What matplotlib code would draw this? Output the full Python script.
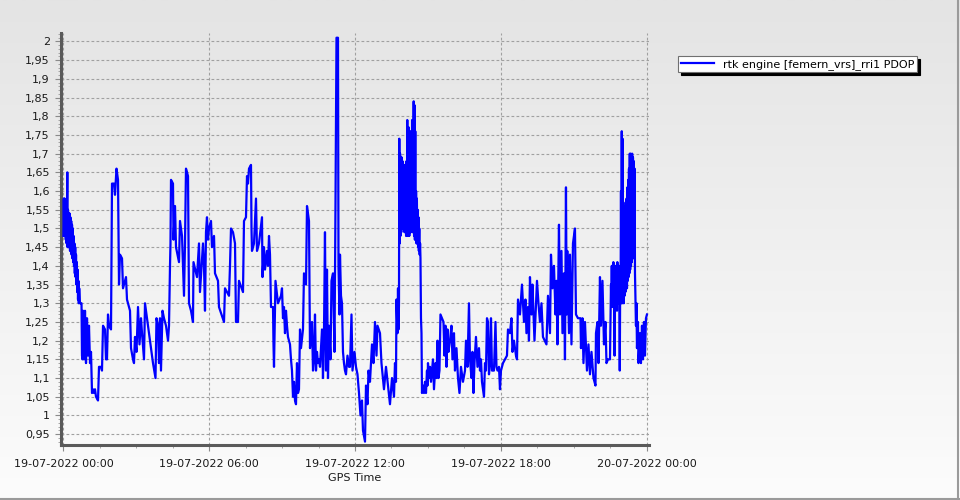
import numpy as np
import matplotlib
matplotlib.use("Agg")
import matplotlib.pyplot as plt
from matplotlib.ticker import FixedLocator, MultipleLocator, FuncFormatter
from matplotlib.colors import LinearSegmentedColormap
from matplotlib.lines import Line2D

# ---------------- data ----------------
series_label = "rtk engine [femern_vrs]_rri1 PDOP"
x_label = "GPS Time"
xtick_hours = [0, 6, 12, 18, 24]
xtick_labels = ["19-07-2022 00:00", "19-07-2022 06:00", "19-07-2022 12:00",
                "19-07-2022 18:00", "20-07-2022 00:00"]
ytick_values = [0.95, 1.00, 1.05, 1.10, 1.15, 1.20, 1.25, 1.30, 1.35, 1.40, 1.45,
                1.50, 1.55, 1.60, 1.65, 1.70, 1.75, 1.80, 1.85, 1.90, 1.95, 2.00]

# hours since 19-07-2022 00:00 and PDOP values, by segment
hours_a = [0.000, 0.016, 0.033, 0.049, 0.066, 0.082, 0.099, 0.115, 0.132, 0.148, 0.160,
           0.173, 0.189, 0.206, 0.222, 0.239, 0.255, 0.272, 0.288, 0.305, 0.321, 0.337,
           0.354, 0.370, 0.387, 0.403, 0.420, 0.436, 0.453, 0.469, 0.486, 0.502, 0.519,
           0.535, 0.551, 0.568, 0.584, 0.601, 0.617, 0.634, 0.650, 0.683, 0.745]
pdop_a = [1.48, 1.58, 1.49, 1.58, 1.48, 1.57, 1.47, 1.56, 1.46, 1.55, 1.65, 1.45, 1.55,
          1.45, 1.54, 1.45, 1.54, 1.44, 1.53, 1.44, 1.52, 1.43, 1.51, 1.42, 1.50, 1.41,
          1.48, 1.40, 1.46, 1.38, 1.45, 1.37, 1.43, 1.35, 1.41, 1.33, 1.39, 1.31, 1.36,
          1.30, 1.34, 1.30, 1.30]

hours_b = [0.765, 0.786, 0.807, 0.848, 0.889, 0.930, 0.971, 1.012, 1.053, 1.095, 1.136,
           1.156, 1.177, 1.218, 1.259, 1.300, 1.342, 1.424, 1.465, 1.547, 1.588, 1.630,
           1.712, 1.753, 1.794, 1.835, 1.877, 1.959, 2.000, 2.082, 2.123, 2.185, 2.247,
           2.288, 2.329, 2.412, 2.453, 2.535, 2.576, 2.617, 2.741, 2.782, 2.864, 2.905,
           2.946, 3.008, 3.070, 3.132, 3.193, 3.235, 3.317, 3.358]
pdop_b = [1.16, 1.15, 1.28, 1.15, 1.28, 1.14, 1.26, 1.16, 1.24, 1.14, 1.17, 1.12, 1.06,
          1.07, 1.06, 1.07, 1.05, 1.04, 1.13, 1.13, 1.12, 1.24, 1.23, 1.15, 1.15, 1.27,
          1.24, 1.23, 1.62, 1.62, 1.59, 1.66, 1.63, 1.35, 1.43, 1.42, 1.34, 1.36, 1.37,
          1.31, 1.28, 1.18, 1.15, 1.14, 1.21, 1.17, 1.29, 1.19, 1.26, 1.22, 1.15, 1.30]

hours_c = [3.523, 3.687, 3.790, 3.831, 3.893, 3.934, 3.975, 4.016, 4.078, 4.140, 4.222,
           4.305, 4.346, 4.387, 4.407, 4.428, 4.510, 4.531, 4.593, 4.634, 4.757, 4.798,
           4.881, 4.963, 5.004, 5.045, 5.128, 5.169, 5.251, 5.333, 5.354, 5.498, 5.580,
           5.621, 5.745, 5.786, 5.827, 5.868, 5.909, 5.951, 5.992, 6.074, 6.115, 6.198,
           6.239, 6.362, 6.403, 6.609, 6.650, 6.733, 6.815]
pdop_c = [1.22, 1.14, 1.10, 1.26, 1.24, 1.14, 1.26, 1.12, 1.28, 1.26, 1.24, 1.20, 1.24,
          1.40, 1.46, 1.63, 1.62, 1.47, 1.56, 1.45, 1.41, 1.52, 1.48, 1.32, 1.46, 1.66,
          1.64, 1.30, 1.28, 1.25, 1.41, 1.37, 1.46, 1.33, 1.46, 1.40, 1.28, 1.49, 1.53,
          1.47, 1.50, 1.52, 1.45, 1.48, 1.38, 1.36, 1.29, 1.25, 1.34, 1.33, 1.32]

hours_d = [6.856, 6.897, 6.979, 7.062, 7.103, 7.185, 7.226, 7.391, 7.432, 7.514, 7.556,
           7.597, 7.638, 7.720, 7.741, 7.761, 7.844, 7.926, 7.967, 8.049, 8.173, 8.193,
           8.255, 8.296, 8.379, 8.420, 8.461, 8.502, 8.543, 8.626, 8.646, 8.667, 8.728,
           8.831, 8.955, 8.996, 9.037, 9.078, 9.119, 9.160, 9.202, 9.243, 9.325, 9.366,
           9.407, 9.449, 9.490, 9.531, 9.572, 9.613, 9.654, 9.695, 9.737, 9.778, 9.860,
           9.901, 9.984, 10.025, 10.107, 10.148, 10.230, 10.272, 10.313, 10.354, 10.395,
           10.436, 10.477]
pdop_d = [1.40, 1.50, 1.49, 1.46, 1.25, 1.25, 1.36, 1.33, 1.52, 1.53, 1.64, 1.62, 1.66,
          1.67, 1.50, 1.44, 1.46, 1.58, 1.44, 1.46, 1.53, 1.37, 1.45, 1.39, 1.44, 1.40,
          1.48, 1.43, 1.29, 1.29, 1.19, 1.13, 1.36, 1.30, 1.32, 1.34, 1.26, 1.29, 1.22,
          1.28, 1.24, 1.21, 1.19, 1.15, 1.12, 1.05, 1.09, 1.04, 1.03, 1.14, 1.06, 1.07,
          1.23, 1.18, 1.23, 1.38, 1.35, 1.56, 1.52, 1.18, 1.25, 1.12, 1.15, 1.27, 1.12,
          1.17, 1.14]

hours_e = [10.519, 10.560, 10.642, 10.683, 10.724, 10.765, 10.807, 10.848, 10.889, 10.930,
           10.992, 11.033, 11.095, 11.156, 11.198, 11.239, 11.300, 11.321, 11.362, 11.383,
           11.424, 11.465, 11.506, 11.547, 11.588, 11.630, 11.691, 11.753, 11.794, 11.856,
           11.897, 11.979, 12.041, 12.103, 12.165, 12.226, 12.288, 12.329, 12.412, 12.453,
           12.514, 12.556, 12.617, 12.700, 12.761, 12.823, 12.885, 12.926, 13.029, 13.090,
           13.193, 13.276, 13.358, 13.440, 13.523, 13.605, 13.646, 13.687, 13.708, 13.749,
           13.770, 13.790, 13.811]
pdop_e = [1.15, 1.13, 1.23, 1.10, 1.22, 1.49, 1.12, 1.39, 1.10, 1.24, 1.15, 1.36, 1.38,
          1.17, 1.57, 2.01, 2.01, 1.40, 1.27, 1.43, 1.32, 1.30, 1.17, 1.14, 1.12, 1.11,
          1.16, 1.13, 1.13, 1.27, 1.12, 1.17, 1.13, 1.11, 1.06, 1.00, 1.04, 0.96, 0.93,
          1.08, 1.03, 1.12, 1.09, 1.19, 1.14, 1.25, 1.16, 1.24, 1.22, 1.14, 1.07, 1.13,
          1.08, 1.03, 1.10, 1.05, 1.14, 1.09, 1.31, 1.22, 1.34, 1.23, 1.30]

hours_f = [13.823, 13.840, 13.856, 13.873, 13.889, 13.905, 13.922, 13.938, 13.955, 13.971,
           13.988, 14.004, 14.021, 14.037, 14.054, 14.070, 14.086, 14.103, 14.119, 14.136,
           14.152, 14.169, 14.185, 14.202, 14.218, 14.235, 14.251, 14.267, 14.284, 14.300,
           14.317, 14.333, 14.350, 14.366, 14.383, 14.399, 14.416, 14.432, 14.448, 14.465,
           14.481, 14.498, 14.514, 14.531, 14.547, 14.564, 14.580, 14.597, 14.613, 14.629,
           14.646, 14.662, 14.679, 14.695]
pdop_f = [1.74, 1.46, 1.70, 1.48, 1.68, 1.49, 1.69, 1.50, 1.68, 1.50, 1.67, 1.50, 1.66,
          1.49, 1.67, 1.49, 1.66, 1.48, 1.68, 1.48, 1.79, 1.48, 1.72, 1.48, 1.77, 1.48,
          1.68, 1.49, 1.76, 1.49, 1.72, 1.50, 1.79, 1.49, 1.74, 1.49, 1.84, 1.48, 1.83,
          1.47, 1.76, 1.47, 1.60, 1.46, 1.58, 1.46, 1.55, 1.45, 1.53, 1.44, 1.50, 1.43,
          1.46, 1.42]

hours_g = [14.716, 14.737, 14.757, 14.799, 14.840, 14.881, 14.922, 14.963, 14.984, 15.004,
           15.045, 15.086, 15.128, 15.210, 15.251, 15.313, 15.354, 15.395, 15.436, 15.477,
           15.518, 15.580, 15.642, 15.683, 15.724, 15.765, 15.807, 15.848, 15.909, 15.971,
           16.012, 16.074, 16.115, 16.177, 16.239, 16.300, 16.362, 16.444, 16.527, 16.568,
           16.630, 16.691, 16.733, 16.794, 16.835, 16.876, 16.918, 16.979, 17.041, 17.103,
           17.144, 17.185, 17.226]
pdop_g = [1.26, 1.22, 1.06, 1.08, 1.06, 1.09, 1.06, 1.12, 1.08, 1.14, 1.10, 1.13, 1.09,
          1.15, 1.07, 1.14, 1.10, 1.20, 1.10, 1.12, 1.27, 1.26, 1.25, 1.16, 1.24, 1.13,
          1.23, 1.17, 1.20, 1.24, 1.15, 1.22, 1.12, 1.18, 1.10, 1.06, 1.13, 1.09, 1.12,
          1.20, 1.13, 1.30, 1.15, 1.10, 1.17, 1.06, 1.14, 1.21, 1.13, 1.18, 1.12, 1.15,
          1.09]

hours_h = [17.309, 17.350, 17.391, 17.432, 17.473, 17.514, 17.556, 17.597, 17.638, 17.720,
           17.782, 17.823, 17.864, 17.926, 17.967, 18.008, 18.091, 18.173, 18.255, 18.296,
           18.379, 18.440, 18.481, 18.543, 18.626, 18.667, 18.708, 18.790, 18.872, 18.914,
           18.955, 19.016, 19.057, 19.119, 19.160, 19.201, 19.263, 19.304, 19.387, 19.490,
           19.551, 19.613, 19.675, 19.736, 19.880, 19.942, 20.025, 20.066, 20.127, 20.189,
           20.251, 20.292, 20.333, 20.395, 20.436, 20.498, 20.539, 20.601, 20.642, 20.683]
pdop_h = [1.05, 1.14, 1.12, 1.26, 1.25, 1.11, 1.14, 1.26, 1.12, 1.12, 1.25, 1.13, 1.12,
          1.13, 1.07, 1.12, 1.14, 1.15, 1.16, 1.23, 1.22, 1.26, 1.17, 1.20, 1.16, 1.15,
          1.31, 1.27, 1.35, 1.30, 1.25, 1.31, 1.22, 1.29, 1.20, 1.37, 1.27, 1.35, 1.20,
          1.36, 1.30, 1.25, 1.30, 1.21, 1.19, 1.32, 1.22, 1.43, 1.34, 1.40, 1.27, 1.36,
          1.19, 1.51, 1.27, 1.44, 1.22, 1.38, 1.15, 1.61]

hours_i = [20.712, 20.737, 20.807, 20.848, 20.909, 20.971, 21.053, 21.095, 21.177, 21.280,
           21.300, 21.362, 21.403, 21.465, 21.547, 21.609, 21.671, 21.733, 21.815, 21.897,
           21.918, 21.980, 22.021, 22.082, 22.123, 22.185, 22.247, 22.309, 22.350, 22.412,
           22.494]
pdop_i = [1.27, 1.44, 1.22, 1.43, 1.19, 1.46, 1.50, 1.27, 1.26, 1.26, 1.18, 1.26, 1.14,
          1.25, 1.12, 1.19, 1.11, 1.17, 1.10, 1.08, 1.22, 1.25, 1.14, 1.37, 1.24, 1.36,
          1.19, 1.25, 1.14, 1.15, 1.15]

hours_j = [22.535, 22.551, 22.568, 22.584, 22.601, 22.617, 22.634, 22.650, 22.667, 22.683,
           22.700, 22.716, 22.733, 22.749, 22.765, 22.782, 22.798, 22.815, 22.831, 22.848,
           22.864, 22.881, 22.897, 22.914, 22.930, 22.947, 22.963, 22.979, 22.996, 23.012,
           23.029, 23.045, 23.062, 23.078, 23.095, 23.111, 23.128, 23.144, 23.160, 23.177,
           23.193, 23.210, 23.226, 23.243, 23.259, 23.276, 23.292, 23.309, 23.325, 23.342,
           23.358, 23.374, 23.391, 23.407, 23.424, 23.440, 23.457, 23.473, 23.490, 23.506,
           23.523]
pdop_j = [1.35, 1.30, 1.40, 1.29, 1.38, 1.30, 1.41, 1.29, 1.37, 1.16,
          1.36, 1.29, 1.40, 1.30, 1.38, 1.28, 1.41, 1.30, 1.38, 1.31,
          1.40, 1.30, 1.12, 1.35, 1.31, 1.60, 1.30, 1.76, 1.30, 1.74,
          1.31, 1.57, 1.30, 1.52, 1.32, 1.56, 1.33, 1.50, 1.34, 1.58,
          1.34, 1.61, 1.36, 1.63, 1.37, 1.66, 1.38, 1.70, 1.39, 1.70,
          1.40, 1.69, 1.41, 1.70, 1.42, 1.69, 1.43, 1.68, 1.42, 1.66,
          1.38]

hours_k = [23.539, 23.564, 23.584, 23.605, 23.646, 23.667, 23.728, 23.769, 23.811, 23.852,
           23.893, 23.934, 23.975, 24.016]
pdop_k = [1.32, 1.24, 1.30, 1.18, 1.25, 1.14, 1.22, 1.14, 1.24, 1.15, 1.25, 1.16, 1.26,
          1.27]

hour_segments = [hours_a, hours_b, hours_c, hours_d, hours_e, hours_f, hours_g,
                 hours_h, hours_i, hours_j, hours_k]
pdop_segments = [pdop_a, pdop_b, pdop_c, pdop_d, pdop_e, pdop_f, pdop_g,
                 pdop_h, pdop_i, pdop_j, pdop_k]
for i, (hs, ps) in enumerate(zip(hour_segments, pdop_segments)):
    if len(hs) != len(ps):
        raise ValueError(f"segment {i}: {len(hs)} hours vs {len(ps)} values")
hours = np.concatenate([np.asarray(h, float) for h in hour_segments])
pdop = np.concatenate([np.asarray(p, float) for p in pdop_segments])

# ---------------- figure ----------------
plt.rcParams['font.family'] = ['DejaVu Sans']
fig = plt.figure(figsize=(9.6, 5.0), dpi=100)

# vertical gradient background
bg = fig.add_axes([0, 0, 1, 1], zorder=0)
grad = np.linspace(0, 1, 256).reshape(-1, 1)
cmap = LinearSegmentedColormap.from_list("bg", ["#e4e4e4", "#fcfcfc"])
bg.imshow(grad, aspect="auto", cmap=cmap, extent=[0, 1, 0, 1], origin="upper")
bg.set_axis_off()

ax = fig.add_axes([61 / 960, 1 - 445 / 500, (649 - 61) / 960, (445 - 32.5) / 500], zorder=1)
ax.set_facecolor("none")

ax.plot(hours, pdop, color="#0000ff", lw=1.6, solid_joinstyle="round",
        label=series_label, zorder=3)

ax.set_xlim(-0.099, 24.1)
ax.set_ylim(0.921, 2.024)

ax.xaxis.set_major_locator(FixedLocator(xtick_hours))
ax.set_xticklabels(xtick_labels)
ax.xaxis.set_minor_locator(MultipleLocator(1.5))
ax.yaxis.set_major_locator(FixedLocator(ytick_values))
ax.yaxis.set_major_formatter(FuncFormatter(lambda v, p: f"{v:g}".replace(".", ",")))
ax.yaxis.set_minor_locator(MultipleLocator(0.01))

ax.grid(True, which="major", color="#a0a0a0", linestyle=(0, (2.5, 2)), linewidth=0.8)
ax.set_axisbelow(True)

for s in ("top", "right"):
    ax.spines[s].set_visible(False)
for s in ("left", "bottom"):
    ax.spines[s].set_color("#5a5a5a")
    ax.spines[s].set_linewidth(2.2)

ax.tick_params(axis="both", which="major", length=4, width=0.8, color="#8a8a8a",
               labelsize=8, labelcolor="#1a1a1a", pad=4)
ax.tick_params(axis="both", which="minor", length=2, width=0.6, color="#9a9a9a")
ax.tick_params(axis="x", which="major", pad=6)

ax.set_xlabel(x_label, fontsize=8, color="#1a1a1a", labelpad=3)

leg = ax.legend(loc="upper left", bbox_to_anchor=(678 / 960, 1 - 56 / 500),
                bbox_transform=fig.transFigure, frameon=True, fancybox=False,
                shadow={"color": "black", "alpha": 1.0}, fontsize=8,
                handlelength=3.0, borderpad=0.25, handletextpad=0.8,
                borderaxespad=0)
leg.get_frame().set_edgecolor("#707070")
leg.get_frame().set_linewidth(0.8)
leg.get_frame().set_facecolor("white")

# window border at right and bottom
fig.add_artist(Line2D([0, 1], [0.002, 0.002], transform=fig.transFigure,
                      color="#9a9a9a", lw=1.5))
fig.add_artist(Line2D([0.998, 0.998], [0, 1], transform=fig.transFigure,
                      color="#9a9a9a", lw=1.5))

fig.savefig("out.png", dpi=100)
